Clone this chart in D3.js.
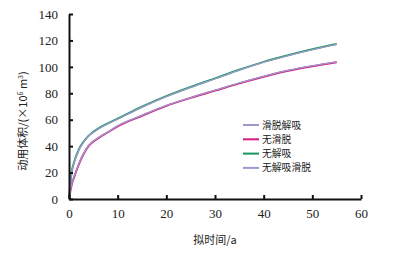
<!DOCTYPE html>
<html><head><meta charset="utf-8">
<script src="https://cdn.jsdelivr.net/npm/d3@7"></script>
<style>body{margin:0;background:#fff}</style>
</head><body>
<script>
const years = [0, 0.5, 1, 2, 3, 4, 5, 6, 8, 10, 15, 20, 25, 30, 35, 40, 45, 50, 55];
const slipDesorb   = [0, 19, 27, 37, 43, 47.5, 50.5, 53, 57, 60.5, 69.5, 77.5, 84.5, 91, 97.5, 103.5, 108.5, 113, 117];
const noSlip       = [0, 10, 16, 26, 34, 40, 43.5, 46, 50.5, 55, 63, 70.5, 76.5, 82, 87.5, 92.5, 97, 100.5, 103.5];
const noDesorb     = [0, 19.3, 27.3, 37.3, 43.3, 47.8, 50.8, 53.3, 57.3, 60.8, 69.8, 77.8, 84.8, 91.3, 97.8, 103.8, 108.8, 113.3, 117.3];
const noDesorbSlip = [0, 10.3, 16.3, 26.3, 34.3, 40.3, 43.8, 46.3, 50.8, 55.3, 63.3, 70.8, 76.8, 82.3, 87.8, 92.8, 97.3, 100.8, 103.8];
const seriesNames = ["滑脱解吸", "无滑脱", "无解吸", "无解吸滑脱"];
const seriesColors = ["#9d98cc", "#d6197e", "#17955f", "#9d98cc"];
const xTicks = [0, 10, 20, 30, 40, 50, 60];
const yTicks = [0, 20, 40, 60, 80, 100, 120, 140];

const W = 397, H = 255;
const svg = d3.select("body").append("svg").attr("width", W).attr("height", H);
const x = d3.scaleLinear().domain([0, 60]).range([69, 361]);
const y = d3.scaleLinear().domain([0, 140]).range([199, 14]);
const numFont = "'Liberation Serif', 'Times New Roman', serif";
const cjkFont = "'Noto Sans CJK SC', sans-serif";

const allSeries = [slipDesorb, noSlip, noDesorb, noDesorbSlip];
const drawOrder = [2, 1, 0, 3];
const line = d3.line().x((d, i) => x(years[i])).y(d => y(d)).curve(d3.curveMonotoneX);
drawOrder.forEach(k => {
  svg.append("path").datum(allSeries[k]).attr("d", line)
    .attr("fill", "none").attr("stroke", seriesColors[k])
    .attr("stroke-width", k === 0 || k === 3 ? 1.3 : 2);
});

const xAxis = svg.append("g").attr("transform", "translate(0,199)")
  .call(d3.axisBottom(x).tickValues(xTicks).tickSizeInner(-4).tickSizeOuter(0).tickPadding(10));
const yAxis = svg.append("g").attr("transform", "translate(69,0)")
  .call(d3.axisLeft(y).tickValues(yTicks).tickSizeInner(-4).tickSizeOuter(0).tickPadding(10));
[xAxis, yAxis].forEach(a => {
  a.select(".domain").attr("stroke", "#111").attr("stroke-width", 2);
  a.selectAll(".tick line").attr("stroke", "#111").attr("stroke-width", 2);
  a.selectAll(".tick text").attr("font-family", numFont).attr("font-size", 13).attr("fill", "#222");
});
yAxis.selectAll(".tick text").attr("x", -11);

svg.append("text").attr("x", 215).attr("y", 244).attr("text-anchor", "middle")
  .attr("font-family", cjkFont).attr("font-size", 11).attr("fill", "#222")
  .text("拟时间/a");

const yl = svg.append("text").attr("transform", "translate(27,121) rotate(-90)")
  .attr("text-anchor", "middle").attr("font-family", cjkFont).attr("font-size", 11).attr("fill", "#222");
yl.append("tspan").text("动用体积/(×10");
yl.append("tspan").attr("font-size", 7).attr("dy", -4).text("6");
yl.append("tspan").attr("dy", 4).text(" m");
yl.append("tspan").attr("font-size", 7).attr("dy", -4).text("3");
yl.append("tspan").attr("dy", 4).text(")");

const lg = svg.append("g");
seriesNames.forEach((n, i) => {
  const yy = 125 + i * 14.3;
  lg.append("line").attr("x1", 243).attr("x2", 259).attr("y1", yy).attr("y2", yy)
    .attr("stroke", seriesColors[i]).attr("stroke-width", 2);
  lg.append("text").attr("x", 262).attr("y", yy + 3.5).attr("font-family", cjkFont)
    .attr("font-size", 9.8).attr("fill", "#222").text(n);
});
</script>
</body></html>
